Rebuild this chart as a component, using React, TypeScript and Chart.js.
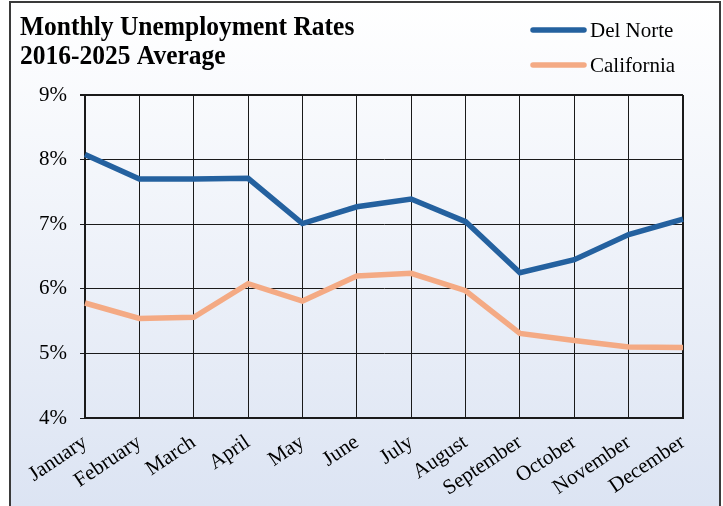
import React, { useEffect, useRef } from "react";
import { Chart, registerables } from "chart.js";

Chart.register(...registerables);

const months = ["January", "February", "March", "April", "May", "June", "July", "August", "September", "October", "November", "December"];
const delNorte = [8.08, 7.70, 7.70, 7.71, 7.01, 7.27, 7.39, 7.04, 6.25, 6.45, 6.84, 7.08];
const california = [5.78, 5.54, 5.56, 6.08, 5.81, 6.20, 6.24, 5.97, 5.31, 5.20, 5.10, 5.09];
const titleLines = ["Monthly Unemployment Rates", "2016-2025 Average"];
const seriesNames = ["Del Norte", "California"];
const seriesColors = ["#24619f", "#f4aa84"];

const SERIF = "'Liberation Serif', 'Times New Roman', serif";

const titleLegendPlugin = {
  id: "titleLegend",
  afterDraw(chart: any) {
    const ctx = chart.ctx;
    ctx.save();
    ctx.fillStyle = "#000";
    ctx.font = `bold 25.5px ${SERIF}`;
    ctx.textAlign = "left";
    ctx.textBaseline = "alphabetic";
    ctx.save();
    ctx.scale(1, 1.06);
    ctx.fillText(titleLines[0], 20, 35 / 1.06);
    ctx.fillText(titleLines[1], 20, 64 / 1.06);
    ctx.restore();
    const ys = [30, 65];
    chart.data.datasets.forEach((ds: any, i: number) => {
      ctx.strokeStyle = ds.borderColor;
      ctx.lineWidth = 5.5;
      ctx.lineCap = "round";
      ctx.beginPath();
      ctx.moveTo(533, ys[i]);
      ctx.lineTo(584, ys[i]);
      ctx.stroke();
      ctx.fillStyle = "#000";
      ctx.font = `21px ${SERIF}`;
      ctx.textBaseline = "middle";
      ctx.fillText(ds.label, 590, ys[i] + 1);
    });
    ctx.restore();
  },
};

export default function App() {
  const ref = useRef<HTMLCanvasElement | null>(null);
  useEffect(() => {
    if (!ref.current) return;
    const chart = new Chart(ref.current, {
      type: "line",
      data: {
        labels: months,
        datasets: [
          { label: seriesNames[0], data: delNorte, borderColor: seriesColors[0], backgroundColor: seriesColors[0], borderWidth: 5.5, pointRadius: 0, tension: 0 },
          { label: seriesNames[1], data: california, borderColor: seriesColors[1], backgroundColor: seriesColors[1], borderWidth: 5.5, pointRadius: 0, tension: 0 },
        ],
      },
      options: {
        animation: false,
        responsive: false,
        layout: { padding: { top: 95, right: 40, left: 0, bottom: 0 } },
        plugins: { legend: { display: false }, title: { display: false }, tooltip: { enabled: false } },
        scales: {
          x: {
            offset: false,
            grid: {
              color: "#1a1a1a",
              lineWidth: (c: any) => (c.index === months.length - 1 ? 2 : 1),
              drawTicks: false,
            },
            border: { color: "#1a1a1a", width: 2 },
            ticks: {
              color: "#000",
              font: { family: SERIF, size: 21 },
              minRotation: 34,
              maxRotation: 34,
              padding: 12,
              autoSkip: false,
            },
            afterFit: (s: any) => { s.height = 88; },
          },
          y: {
            min: 4,
            max: 9,
            grid: {
              color: "#1a1a1a",
              lineWidth: (c: any) => (c.index === 5 ? 2 : 1),
              tickLength: 5,
            },
            border: { color: "#1a1a1a", width: 2 },
            ticks: {
              stepSize: 1,
              color: "#000",
              font: { family: SERIF, size: 21 },
              padding: 13,
              callback: (v: any) => `${v}%`,
            },
            afterFit: (s: any) => { s.width = 85; },
          },
        },
      },
      plugins: [titleLegendPlugin],
    });
    return () => chart.destroy();
  }, []);
  return (
    <div style={{ position: "fixed", left: 0, top: 0, width: 723, height: 506, overflow: "hidden", background: "#fff" }}>
      <div
        style={{
          position: "absolute",
          left: 9,
          top: 1,
          width: 708,
          height: 530,
          border: "2px solid #3a3a3a",
          background: "linear-gradient(to bottom, #ffffff 0%, #dce4f3 95%)",
        }}
      />
      <canvas ref={ref} width={723} height={506} style={{ position: "absolute", left: 0, top: 0 }} />
    </div>
  );
}
